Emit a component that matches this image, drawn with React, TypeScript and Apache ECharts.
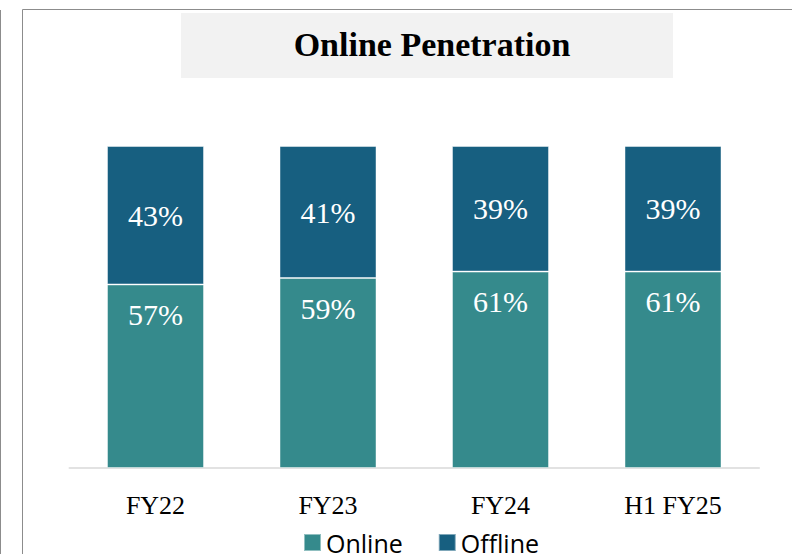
import React, { useEffect, useRef } from "react";
import * as echarts from "echarts";

const categories = ["FY22", "FY23", "FY24", "H1 FY25"];
const onlineValues = [57, 59, 61, 61];
const offlineValues = [43, 41, 39, 39];
const seriesNames = ["Online", "Offline"];
const chartTitle = "Online Penetration";

export default function App() {
  const ref = useRef<HTMLDivElement>(null);
  useEffect(() => {
    if (!ref.current) return;
    const chart = echarts.init(ref.current, null, { renderer: "svg" });
    const serif = "'Liberation Serif', serif";
    chart.setOption({
      animation: false,
      backgroundColor: "#ffffff",
      grid: { left: 69.25, right: 32.75, top: 146, bottom: 86 },
      xAxis: {
        type: "category",
        data: categories,
        axisLine: { lineStyle: { color: "#d9d9d9", width: 1.5 } },
        axisTick: { show: false },
        axisLabel: { color: "#000", fontFamily: serif, fontSize: 26, margin: 24 },
      },
      yAxis: {
        type: "value",
        min: 0,
        max: 100,
        show: false,
        splitLine: { show: false },
      },
      legend: {
        left: 303,
        top: 530,
        padding: 0,
        itemWidth: 17,
        itemHeight: 17,
        itemGap: 35,
        icon: "rect",
        textStyle: { fontFamily: "'Open Sans', sans-serif", fontSize: 25, color: "#000", lineHeight: 20 },
        data: seriesNames,
      },
      series: [
        {
          name: seriesNames[0],
          type: "bar",
          stack: "total",
          barWidth: 97,
          data: onlineValues,
          itemStyle: { color: "#358a8c", borderColor: "rgba(255,255,255,0.45)", borderWidth: 1 },
          label: {
            show: true,
            position: "insideTop",
            distance: 15,
            formatter: "{c}%",
            color: "#fff",
            fontFamily: serif,
            fontSize: 30,
          },
        },
        {
          name: seriesNames[1],
          type: "bar",
          stack: "total",
          barWidth: 97,
          data: offlineValues,
          itemStyle: { color: "#175f80", borderColor: "rgba(255,255,255,0.45)", borderWidth: 1 },
          label: {
            show: true,
            position: "inside",
            formatter: "{c}%",
            color: "#fff",
            fontFamily: serif,
            fontSize: 30,
          },
        },
      ],
      graphic: [
        { type: "line", shape: { x1: 0.5, y1: 10, x2: 0.5, y2: 554 }, style: { stroke: "#8c8c8c", lineWidth: 1 } },
        { type: "line", shape: { x1: 22.5, y1: 9.5, x2: 792, y2: 9.5 }, style: { stroke: "#8c8c8c", lineWidth: 1 } },
        { type: "line", shape: { x1: 22.5, y1: 9.5, x2: 22.5, y2: 554 }, style: { stroke: "#8c8c8c", lineWidth: 1 } },
        { type: "rect", shape: { x: 181, y: 13, width: 492, height: 65 }, style: { fill: "#f2f2f2" }, z: -1 },
        {
          type: "text",
          x: 432,
          y: 44,
          style: {
            text: chartTitle,
            fontFamily: serif,
            fontWeight: "bold",
            fontSize: 34,
            fill: "#000",
            textAlign: "center",
            textVerticalAlign: "middle",
          },
        },
      ],
    });
    return () => chart.dispose();
  }, []);
  return (
    <div
      ref={ref}
      style={{ position: "fixed", left: 0, top: 0, width: 792, height: 554 }}
    />
  );
}
